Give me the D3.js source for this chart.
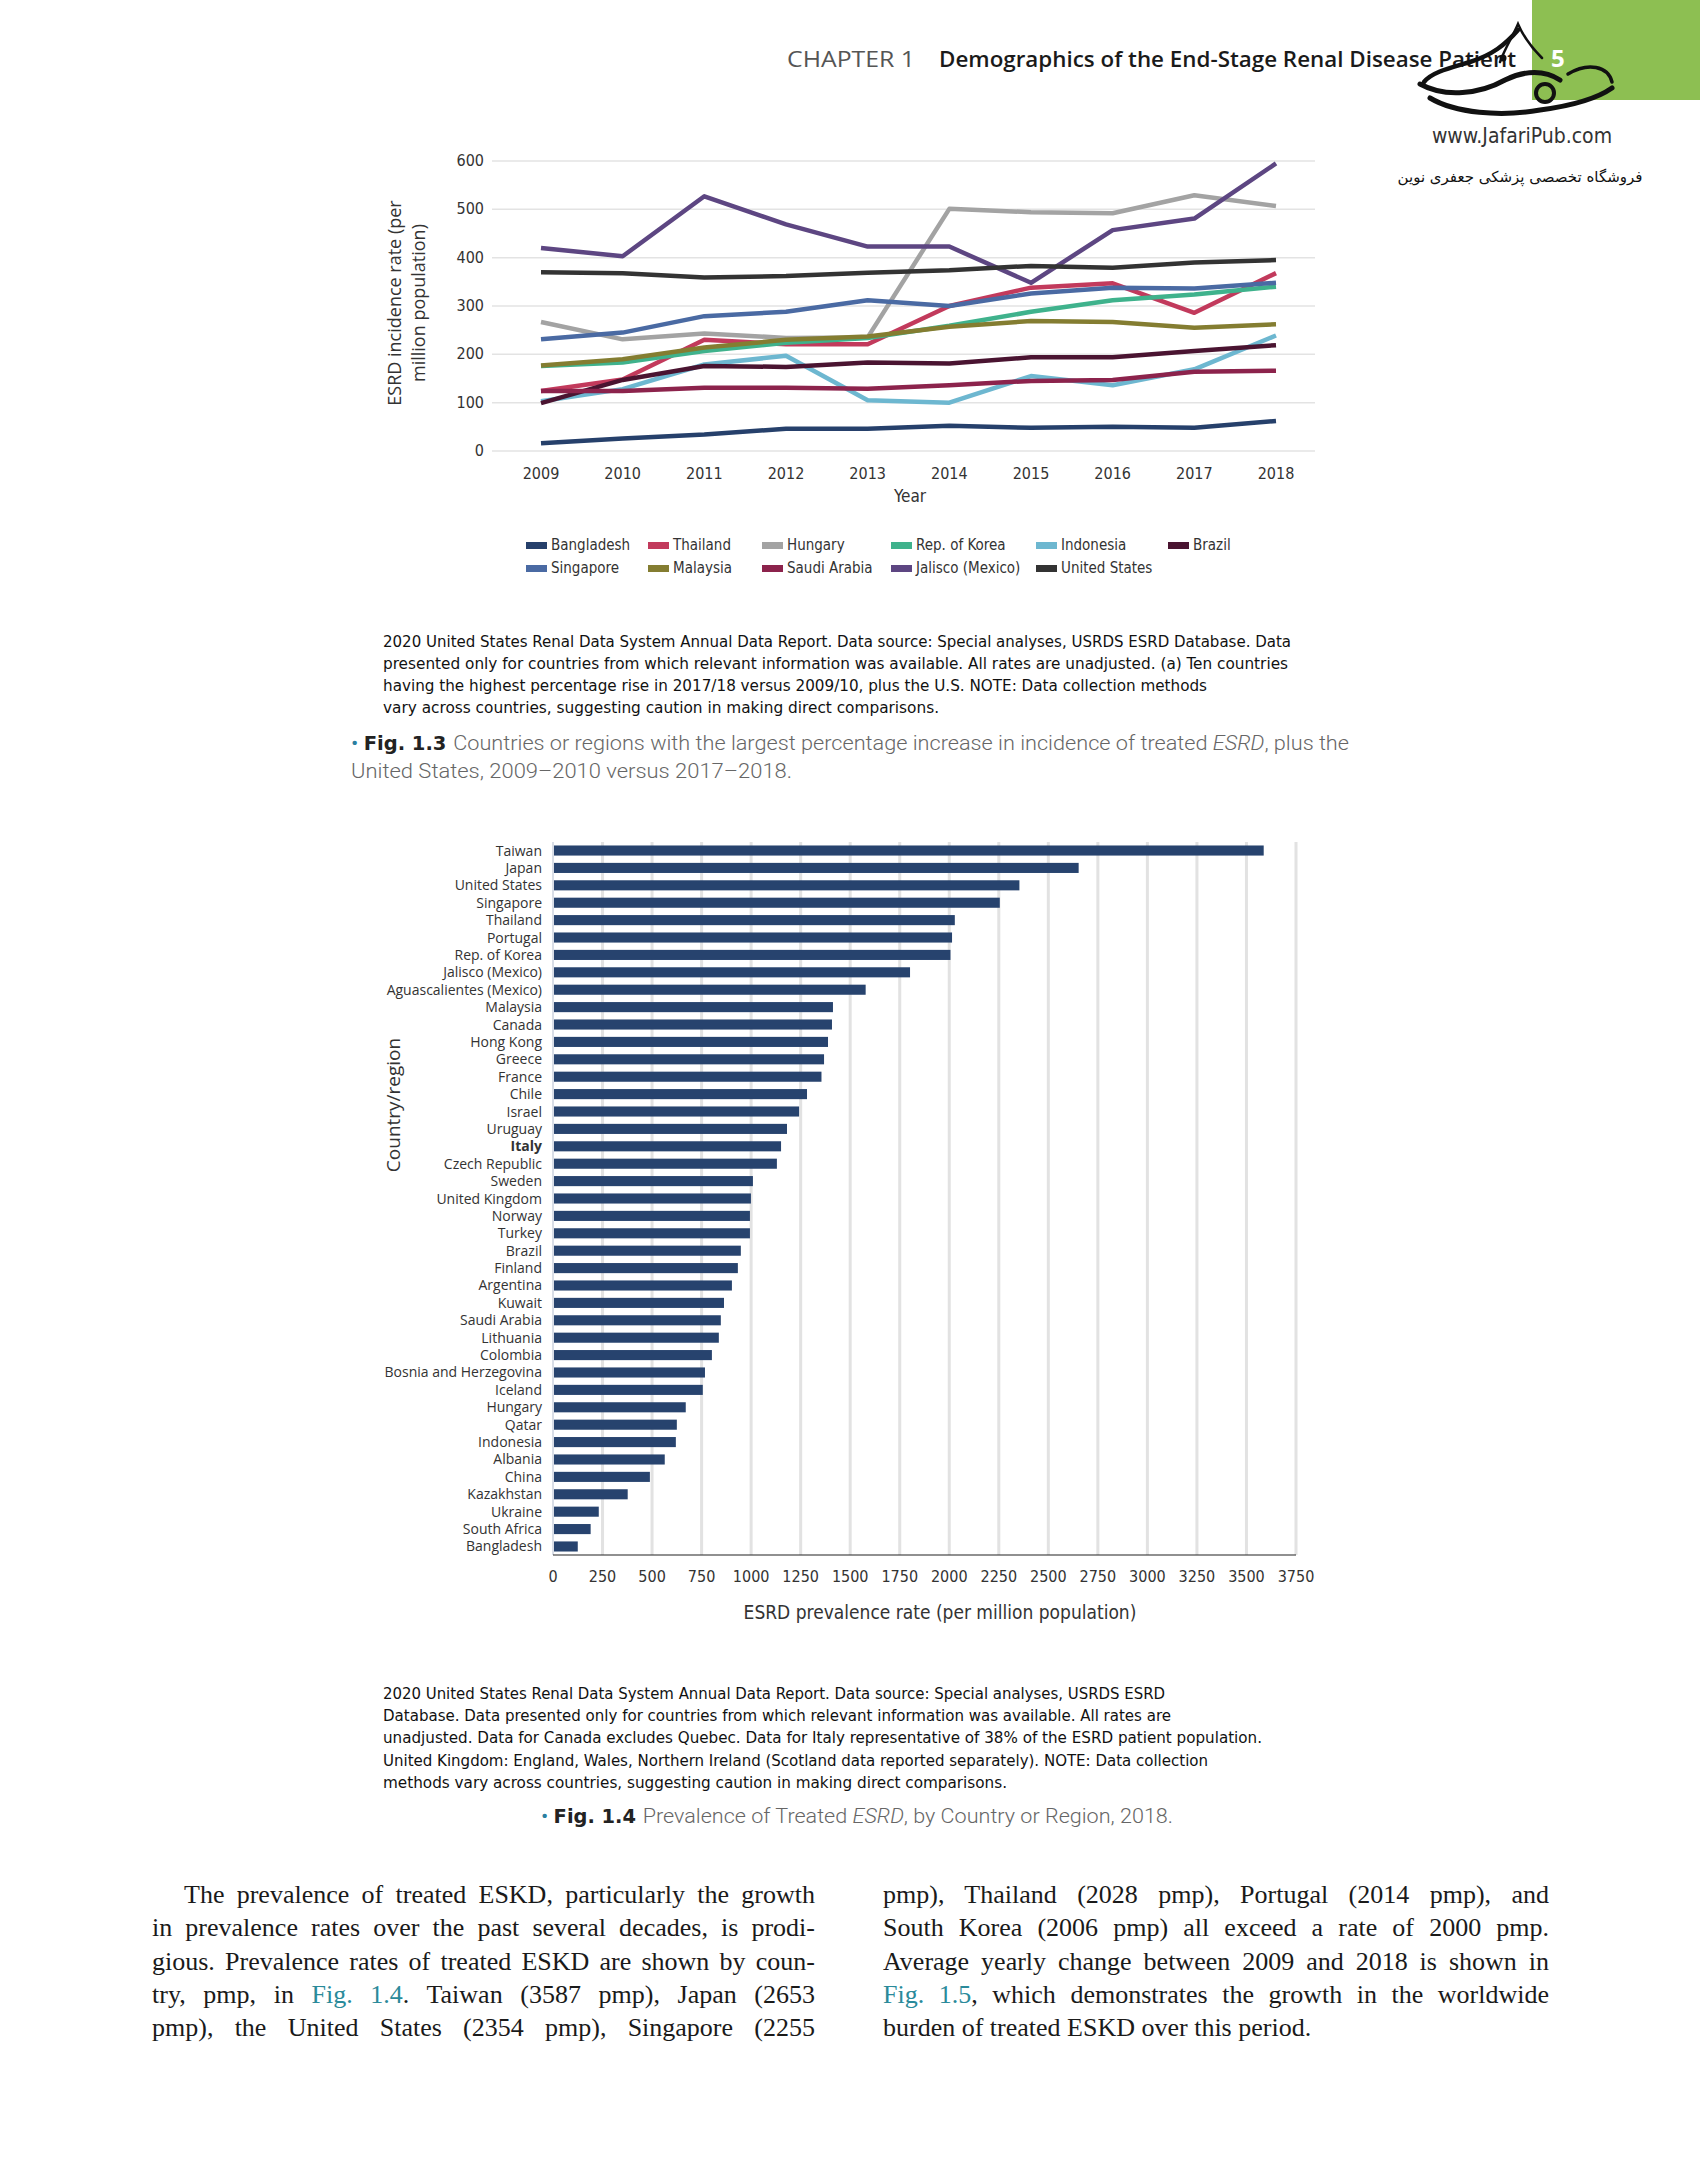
<!DOCTYPE html>
<html>
<head>
<meta charset="utf-8">
<script src="https://cdn.jsdelivr.net/npm/d3@7"></script>
<style>
  body { margin: 0; background: #fff; }
  svg { display: block; }
</style>
</head>
<body>
<div id="page"></div>
<script>
// ---- data: Fig 1.3 (incidence, per million) ----
const years = [2009, 2010, 2011, 2012, 2013, 2014, 2015, 2016, 2017, 2018];
const yTicks = [0, 100, 200, 300, 400, 500, 600];

const bangladesh = [16, 26, 34, 46, 46, 52, 48, 50, 48, 62];
const thailand = [124, 148, 230, 221, 221, 300, 338, 347, 286, 368];
const hungary = [267, 231, 243, 234, 235, 501, 494, 492, 529, 507];
const korea = [176, 183, 207, 224, 234, 259, 288, 312, 324, 340];
const indonesia = [103, 128, 179, 197, 105, 100, 155, 136, 169, 239];
const brazil = [99, 147, 176, 174, 183, 181, 194, 194, 207, 219];
const singapore = [231, 245, 279, 288, 312, 300, 326, 338, 336, 348];
const malaysia = [177, 190, 214, 230, 237, 257, 269, 267, 255, 262];
const saudi = [124, 124, 131, 131, 129, 136, 145, 147, 164, 166];
const jalisco = [420, 403, 527, 469, 423, 423, 348, 457, 481, 595];
const unitedStates = [370, 368, 359, 362, 369, 374, 383, 379, 390, 395];

// legend order, two rows
const seriesNames = ["Bangladesh", "Thailand", "Hungary", "Rep. of Korea", "Indonesia", "Brazil",
  "Singapore", "Malaysia", "Saudi Arabia", "Jalisco (Mexico)", "United States"];
const seriesValues = [bangladesh, thailand, hungary, korea, indonesia, brazil,
  singapore, malaysia, saudi, jalisco, unitedStates];
const seriesColors = ["#26406b", "#c23a5c", "#a3a3a3", "#3fb28c", "#6db7d0", "#4a1431",
  "#4a6aa3", "#847d31", "#8c234c", "#5d4682", "#333333"];

// ---- data: Fig 1.4 (prevalence 2018, per million) ----
const countries = ["Taiwan", "Japan", "United States", "Singapore", "Thailand", "Portugal",
  "Rep. of Korea", "Jalisco (Mexico)", "Aguascalientes (Mexico)", "Malaysia", "Canada",
  "Hong Kong", "Greece", "France", "Chile", "Israel", "Uruguay", "Italy", "Czech Republic",
  "Sweden", "United Kingdom", "Norway", "Turkey", "Brazil", "Finland", "Argentina", "Kuwait",
  "Saudi Arabia", "Lithuania", "Colombia", "Bosnia and Herzegovina", "Iceland", "Hungary",
  "Qatar", "Indonesia", "Albania", "China", "Kazakhstan", "Ukraine", "South Africa", "Bangladesh"];
const prevalence = [3587, 2653, 2354, 2255, 2028, 2014, 2006, 1802, 1578, 1413, 1408,
  1388, 1368, 1355, 1282, 1242, 1181, 1151, 1130, 1009, 999, 994, 994, 948, 933, 903, 863,
  847, 837, 802, 767, 756, 670, 625, 620, 564, 489, 377, 231, 190, 125];
const xTicks = d3.range(0, 3751, 250);

const W = 1700, H = 2175;
const sans = "'Open Sans', 'Noto Sans', sans-serif";
const cond = "'Liberation Sans Narrow', 'DejaVu Sans Condensed', 'Open Sans', sans-serif";

const svg = d3.select("#page").append("svg")
  .attr("width", W).attr("height", H)
  .attr("viewBox", `0 0 ${W} ${H}`);
svg.append("rect").attr("width", W).attr("height", H).attr("fill", "#fff");

// ---------- page header ----------
svg.append("rect").attr("x", 1532).attr("y", 0).attr("width", 168).attr("height", 100).attr("fill", "#8dbf52");
svg.append("text").attr("x", 1551).attr("y", 67).attr("font-family", sans).attr("font-size", 24)
  .attr("font-weight", 700).attr("fill", "#fff").text("5");
svg.append("text").attr("x", 787).attr("y", 67).attr("font-family", sans).attr("font-size", 22)
  .attr("fill", "#555").attr("textLength", 128).attr("lengthAdjust", "spacingAndGlyphs").text("CHAPTER 1");
svg.append("text").attr("x", 939).attr("y", 67).attr("font-family", sans).attr("font-size", 22)
  .attr("font-weight", 600).attr("fill", "#1a1a1a")
  .attr("textLength", 577).attr("lengthAdjust", "spacingAndGlyphs")
  .text("Demographics of the End-Stage Renal Disease Patient");

// rough watermark logo
const logo = svg.append("g").attr("fill", "none").attr("stroke", "#111").attr("stroke-linecap", "round");
logo.append("path").attr("d", "M1500,62 C1505,48 1512,38 1518,24 C1524,38 1532,48 1542,58").attr("stroke-width", 2.5);
logo.append("path").attr("d", "M1518,30 C1505,45 1492,55 1470,62 C1450,68 1432,72 1424,82").attr("stroke-width", 4.5);
logo.append("path").attr("d", "M1420,84 C1445,98 1480,94 1505,80 C1525,70 1545,70 1560,80").attr("stroke-width", 5);
logo.append("circle").attr("cx", 1545).attr("cy", 93).attr("r", 9).attr("stroke-width", 4);
logo.append("path").attr("d", "M1430,98 C1455,113 1500,117 1540,110 C1570,106 1595,100 1612,88").attr("stroke-width", 5);
logo.append("path").attr("d", "M1568,74 C1588,62 1608,66 1612,82").attr("stroke-width", 3.5);
logo.append("circle").attr("cx", 1503).attr("cy", 58).attr("r", 3.5).attr("fill", "#111").attr("stroke", "none");
svg.append("text").attr("x", 1522).attr("y", 143).attr("text-anchor", "middle").attr("font-family", cond)
  .attr("font-size", 21).attr("fill", "#333").text("www.JafariPub.com");
svg.append("text").attr("x", 1520).attr("y", 182).attr("text-anchor", "middle")
  .attr("font-family", "'DejaVu Sans', sans-serif").attr("font-size", 15).attr("fill", "#111")
  .attr("direction", "rtl").text("فروشگاه تخصصی پزشکی جعفری نوین");

// ---------- Fig 1.3 line chart ----------
const x1 = d3.scalePoint().domain(years).range([541, 1276]);
const y1 = d3.scaleLinear().domain([0, 600]).range([451, 161]);

svg.append("g").selectAll("line").data(yTicks).join("line")
  .attr("x1", 492).attr("x2", 1315)
  .attr("y1", d => y1(d)).attr("y2", d => y1(d))
  .attr("stroke", "#e3e3e3").attr("stroke-width", 1.5);

svg.append("g").selectAll("text").data(yTicks).join("text")
  .attr("x", 484).attr("y", d => y1(d) + 5)
  .attr("text-anchor", "end").attr("font-family", cond).attr("font-size", 16).attr("fill", "#333")
  .text(d => d);

svg.append("g").selectAll("text").data(years).join("text")
  .attr("x", d => x1(d)).attr("y", 479)
  .attr("text-anchor", "middle").attr("font-family", cond).attr("font-size", 16).attr("fill", "#333")
  .text(d => d);

svg.append("text").attr("x", 910).attr("y", 502).attr("text-anchor", "middle")
  .attr("font-family", cond).attr("font-size", 17).attr("fill", "#333").text("Year");

const yl = svg.append("text").attr("transform", "translate(401,303) rotate(-90)")
  .attr("text-anchor", "middle").attr("font-family", sans).attr("font-size", 18).attr("fill", "#333");
yl.append("tspan").attr("x", 0).attr("y", 0).text("ESRD incidence rate (per");
yl.append("tspan").attr("x", 0).attr("y", 24).text("million population)");

const line = d3.line().x((d, i) => x1(years[i])).y(d => y1(d));
svg.append("g").selectAll("path").data(seriesValues).join("path")
  .attr("d", line)
  .attr("fill", "none")
  .attr("stroke", (d, i) => seriesColors[i])
  .attr("stroke-width", 4.5)
  .attr("stroke-linejoin", "round");

const legendCols = [526, 648, 762, 891, 1036, 1168];
const legend = svg.append("g").selectAll("g").data(seriesNames).join("g")
  .attr("transform", (d, i) => `translate(${legendCols[i % 6]},${i < 6 ? 545 : 568})`);
legend.append("rect").attr("x", 0).attr("y", -3).attr("width", 21).attr("height", 7)
  .attr("fill", (d, i) => seriesColors[i]);
legend.append("text").attr("x", 25).attr("y", 5).attr("font-family", cond).attr("font-size", 15)
  .attr("fill", "#333").text(d => d);

// caption text helper
function block(lines, x, y0, lh, size, family, color, widths) {
  lines.forEach((t, i) => {
    const el = svg.append("text").attr("x", x).attr("y", y0 + i * lh)
      .attr("font-family", family).attr("font-size", size).attr("fill", color).text(t);
    if (widths && widths[i]) el.attr("textLength", widths[i]).attr("lengthAdjust", "spacingAndGlyphs");
  });
}

block([
  "2020 United States Renal Data System Annual Data Report. Data source: Special analyses, USRDS ESRD Database. Data",
  "presented only for countries from which relevant information was available. All rates are unadjusted. (a) Ten countries",
  "having the highest percentage rise in 2017/18 versus 2009/10, plus the U.S. NOTE: Data collection methods",
  "vary across countries, suggesting caution in making direct comparisons."
], 383, 647, 22, 16, cond, "#111", [908, 905, 824, 556]);

function figCaption(x, y, label, parts, width) {
  const t = svg.append("text").attr("x", x).attr("y", y).attr("font-family", "Roboto, sans-serif")
    .attr("font-size", 20).attr("fill", "#666");
  if (width) t.attr("textLength", width).attr("lengthAdjust", "spacingAndGlyphs");
  if (label) {
    t.append("tspan").attr("fill", "#2a7fa0").text("• ");
    t.append("tspan").attr("fill", "#222").attr("font-weight", 700).attr("font-family", cond).text(label + "  ");
  }
  parts.forEach(p => t.append("tspan").attr("font-style", p.i ? "italic" : null).attr("font-weight", 300).text(p.t));
}
figCaption(351, 750, "Fig. 1.3", [{t: "Countries or regions with the largest percentage increase in incidence of treated "}, {t: "ESRD", i: 1}, {t: ", plus the"}], 998);
figCaption(351, 778, null, [{t: "United States, 2009–2010 versus 2017–2018."}], 441);

// ---------- Fig 1.4 bar chart ----------
const x2 = d3.scaleLinear().domain([0, 3750]).range([553, 1296]);
const y2 = d3.scaleBand().domain(countries).range([842, 1555]).paddingInner(0.42).paddingOuter(0.2);

svg.append("g").selectAll("line").data(xTicks.slice(1)).join("line")
  .attr("x1", d => x2(d)).attr("x2", d => x2(d)).attr("y1", 842).attr("y2", 1555)
  .attr("stroke", "#e2e2e2").attr("stroke-width", 3);

svg.append("g").selectAll("rect").data(prevalence).join("rect")
  .attr("x", x2(0)).attr("y", (d, i) => y2(countries[i]))
  .attr("width", d => x2(d) - x2(0)).attr("height", y2.bandwidth())
  .attr("fill", "#27436e");

svg.append("line").attr("x1", x2(0)).attr("x2", x2(0)).attr("y1", 842).attr("y2", 1555)
  .attr("stroke", "#d8dde6").attr("stroke-width", 2);
svg.append("line").attr("x1", x2(0)).attr("x2", 1296).attr("y1", 1555).attr("y2", 1555)
  .attr("stroke", "#222").attr("stroke-width", 1.2);

svg.append("g").selectAll("text").data(countries).join("text")
  .attr("x", 542).attr("y", d => y2(d) + y2.bandwidth() / 2 + 5)
  .attr("text-anchor", "end").attr("font-family", sans).attr("font-size", 14)
  .attr("font-weight", d => d === "Italy" ? 700 : 400)
  .attr("fill", "#333").text(d => d);

svg.append("g").selectAll("text").data(xTicks).join("text")
  .attr("x", d => x2(d)).attr("y", 1582).attr("text-anchor", "middle")
  .attr("font-family", cond).attr("font-size", 16).attr("fill", "#333").text(d => d);

svg.append("text").attr("x", 940).attr("y", 1619).attr("text-anchor", "middle")
  .attr("font-family", cond).attr("font-size", 19).attr("fill", "#333")
  .text("ESRD prevalence rate (per million population)");

svg.append("text").attr("transform", "translate(400,1105) rotate(-90)").attr("text-anchor", "middle")
  .attr("font-family", sans).attr("font-size", 19).attr("fill", "#333").text("Country/region");

block([
  "2020 United States Renal Data System Annual Data Report. Data source: Special analyses, USRDS ESRD",
  "Database. Data presented only for countries from which relevant information was available. All rates are",
  "unadjusted. Data for Canada excludes Quebec. Data for Italy representative of 38% of the ESRD patient population.",
  "United Kingdom: England, Wales, Northern Ireland (Scotland data reported separately). NOTE: Data collection",
  "methods vary across countries, suggesting caution in making direct comparisons."
], 383, 1699, 22.2, 16, cond, "#111", [782, 788, 879, 825, 624]);

figCaption(541, 1823, "Fig. 1.4", [{t: "Prevalence of Treated "}, {t: "ESRD", i: 1}, {t: ", by Country or Region, 2018."}], 632);

// ---------- body text (two justified columns) ----------
const serif = "'Liberation Serif', 'DejaVu Serif', serif";
function bodyLine(parts, x, y, width, justify) {
  const t = svg.append("text").attr("x", x).attr("y", y).attr("font-family", serif)
    .attr("font-size", 26).attr("fill", "#1a1a1a").attr("xml:space", "preserve");
  parts.forEach(p => t.append("tspan").attr("fill", p.link ? "#2a8a9a" : null).text(p.t));
  if (justify) {
    const natural = t.node().getComputedTextLength();
    const spaces = parts.map(p => p.t).join("").split(" ").length - 1;
    if (spaces > 0) t.attr("word-spacing", (width - natural) / spaces);
  }
}
const leftCol = [
  [{t: "The prevalence of treated ESKD, particularly the growth"}],
  [{t: "in prevalence rates over the past several decades, is prodi-"}],
  [{t: "gious. Prevalence rates of treated ESKD are shown by coun-"}],
  [{t: "try, pmp, in "}, {t: "Fig. 1.4", link: 1}, {t: ". Taiwan (3587 pmp), Japan (2653"}],
  [{t: "pmp), the United States (2354 pmp), Singapore (2255"}]
];
const rightCol = [
  [{t: "pmp), Thailand (2028 pmp), Portugal (2014 pmp), and"}],
  [{t: "South Korea (2006 pmp) all exceed a rate of 2000 pmp."}],
  [{t: "Average yearly change between 2009 and 2018 is shown in"}],
  [{t: "Fig. 1.5", link: 1}, {t: ", which demonstrates the growth in the worldwide"}],
  [{t: "burden of treated ESKD over this period."}]
];
leftCol.forEach((p, i) => {
  const x = i === 0 ? 184 : 152;
  bodyLine(p, x, 1903 + i * 33.3, 815 - x, true);
});
rightCol.forEach((p, i) => bodyLine(p, 883, 1903 + i * 33.3, 666, i < 4));
</script>
</body>
</html>
